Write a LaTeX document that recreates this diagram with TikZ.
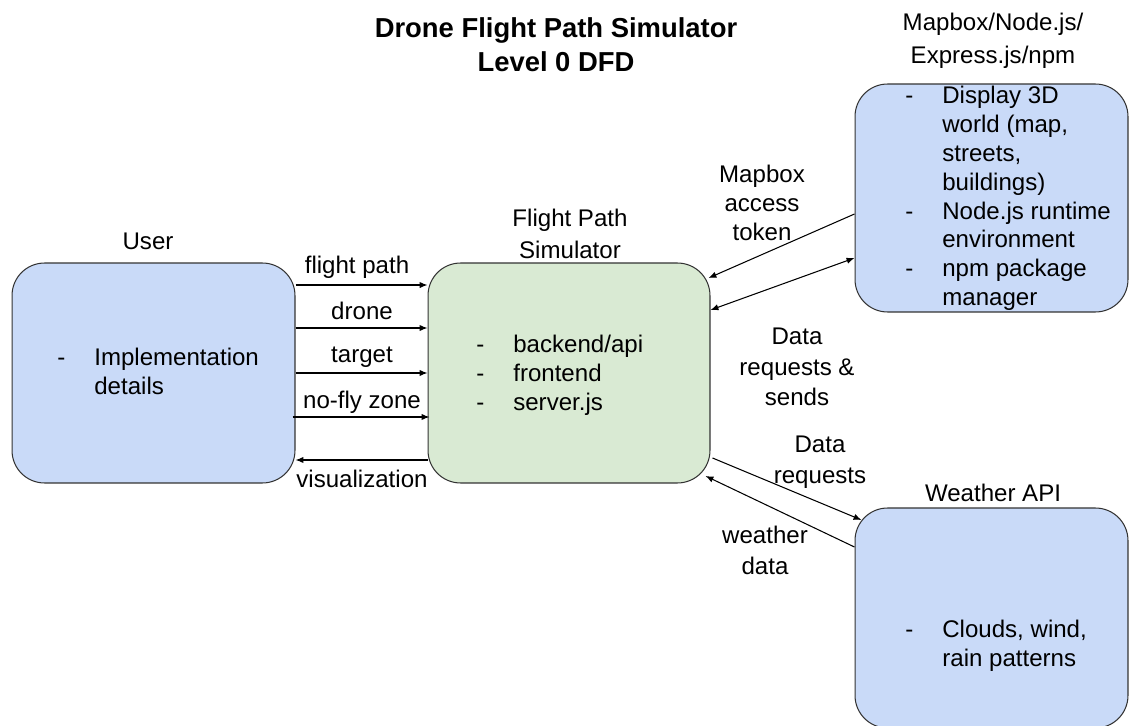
\documentclass[tikz,border=0pt]{standalone}
\usepackage{fontspec}
\setmainfont{Liberation Sans}
\usepackage{array}
\usetikzlibrary{arrows.meta,positioning,calc}

\definecolor{entblue}{HTML}{C9DAF8}
\definecolor{procgreen}{HTML}{D9EAD3}
\definecolor{edge}{HTML}{333333}

\begin{document}
\begin{tikzpicture}[
  x=0.02cm, y=-0.02cm,
  font=\fontsize{13.7}{16.4}\selectfont,
  box/.style={draw=edge, line width=0.6pt, rounded corners=0.65cm, inner sep=0},
  lbl/.style={align=center, inner sep=0},
  toplbl/.style={lbl, font=\fontsize{13.7}{18.6}\selectfont},
  items/.style={anchor=west, inner sep=0, align=left},
  arr/.style={-{Latex[length=4.5pt,width=3.6pt]}, line width=0.6pt},
  darr/.style={{Latex[length=4.5pt,width=3.6pt]}-{Latex[length=4.5pt,width=3.6pt]}, line width=0.6pt}
]
\useasboundingbox (0,0) rectangle (1132,726);
\clip (0,0) rectangle (1132,726);

% title
\node[lbl, font=\fontsize{15.6}{19.3}\selectfont\bfseries] (title) at (556,45) {Drone Flight Path Simulator\\Level 0 DFD};

% entities and process
\node[box, fill=entblue, minimum width=5.66cm, minimum height=4.4cm] (user) at (153.5,373) {};
\node[box, fill=procgreen, minimum width=5.64cm, minimum height=4.4cm] (fps) at (569,373) {};
\node[box, fill=entblue, minimum width=5.46cm, minimum height=4.56cm] (mapbox) at (991.5,198) {};
\node[box, fill=entblue, minimum width=5.46cm, minimum height=4.4cm] (weather) at (991.5,618) {};

\node[lbl] (user_lbl) at (148,241) {User};
\node[toplbl] (fps_lbl) at (570,234) {Flight Path\\Simulator};
\node[toplbl] (mapbox_lbl) at (993,41) {Mapbox/Node.js/\\Express.js/npm};
\node[lbl] (weather_lbl) at (993,493) {Weather API};

% box contents
\node[items] (user_txt) at (57,374) {\begin{tabular}{@{}p{0.74cm}@{}l@{}}
- & Implementation\\ & details\end{tabular}};
\node[items] (fps_txt) at (476,376) {\begin{tabular}{@{}p{0.74cm}@{}l@{}}
- & backend/api\\ - & frontend\\ - & server.js\end{tabular}};
\node[items] (mapbox_txt) at (905,199) {\begin{tabular}{@{}p{0.74cm}@{}l@{}}
- & Display 3D\\ & world (map,\\ & streets,\\ & buildings)\\
- & Node.js runtime\\ & environment\\ - & npm package\\ & manager\end{tabular}};
\node[items] (weather_txt) at (905,646) {\begin{tabular}{@{}p{0.74cm}@{}l@{}}
- & Clouds, wind,\\ & rain patterns\end{tabular}};

% flows user <-> simulator
\draw[arr] ([yshift=1.76cm]user.east) -- ([yshift=1.76cm]fps.west);
\draw[arr] ([yshift=0.9cm]user.east) -- ([yshift=0.9cm]fps.west);
\draw[arr] (user.east) -- (fps.west);
\draw[arr, shorten <=-0.06cm, shorten >=-0.04cm] ([yshift=-0.88cm]user.east) -- ([yshift=-0.88cm]fps.west);
\draw[arr] ([yshift=-1.74cm]fps.west) -- ([yshift=-1.74cm]user.east);

\node[lbl] (l_path) at (357,267) {flight path};
\node[lbl] (l_drone) at (362,311) {drone};
\node[lbl] (l_target) at (362,357) {target};
\node[lbl] (l_nofly) at (362,402) {no-fly zone};
\node[lbl] (l_vis) at (362,479) {visualization};

% flows simulator <-> mapbox
\draw[arr] ([yshift=-0.32cm]mapbox.west) -- ([xshift=-0.04cm,yshift=1.9cm]fps.east);
\draw[darr] ([yshift=1.26cm]fps.east) -- ([yshift=-1.2cm]mapbox.west);
\node[lbl] (l_token) at (762,203) {Mapbox\\access\\token};
\node[lbl, font=\fontsize{13.7}{17.2}\selectfont] (l_req) at (797,367) {Data\\requests \&\\sends};

% flows simulator <-> weather
\draw[arr] ([xshift=0.04cm,yshift=-1.7cm]fps.east) -- ([xshift=0.14cm,yshift=1.96cm]weather.west);
\draw[arr] ([yshift=1.42cm]weather.west) -- ([xshift=-0.1cm,yshift=-2.06cm]fps.east);
\node[lbl, font=\fontsize{13.7}{17.6}\selectfont] (l_wreq) at (820,462) {Data\\requests};
\node[lbl, font=\fontsize{13.7}{17.6}\selectfont] (l_wdata) at (765,550) {weather\\data};
\end{tikzpicture}
\end{document}
